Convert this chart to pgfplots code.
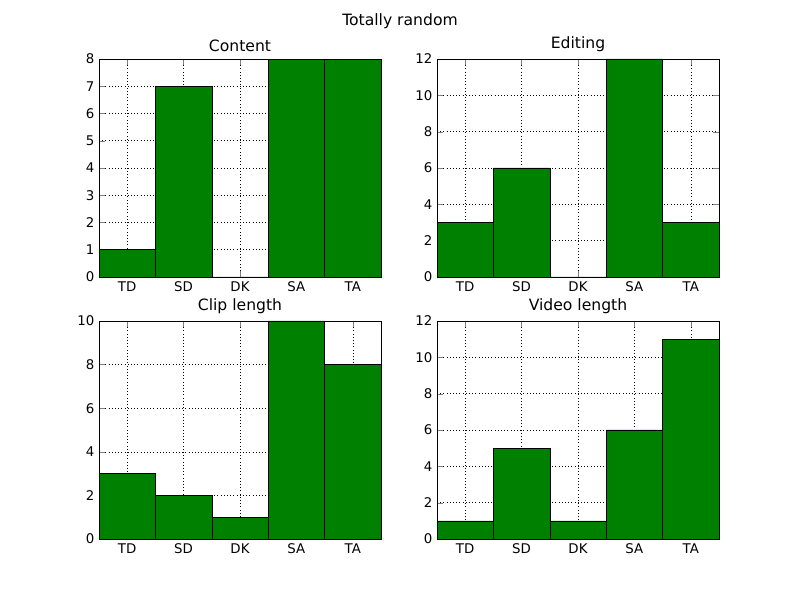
\documentclass[border=0pt]{standalone}
\usepackage{pgfplots}
\pgfplotsset{compat=1.18}
\usepackage{fontspec}
\setmainfont{DejaVu Sans}
\definecolor{mgreen}{RGB}{0,128,0}
\pgfplotsset{
  myax/.style={
    scale only axis, width=211.5pt, height=163.5pt,
    xmin=-0.5, xmax=4.5, ymin=0,
    xtick={0,1,2,3,4}, xticklabels={TD,SD,DK,SA,TA},
    tick align=inside, tick pos=both,
    grid=major, major grid style={black, dotted},
    font=\fontsize{10}{12}\selectfont,
    /pgf/number format/assume math mode=true,
    title style={font=\fontsize{11.7}{13}\selectfont, yshift=-4pt},
    axis line style={black}, anchor=south west,
  },
  mybar/.style={ybar, bar width=1, bar shift=0pt, fill=mgreen, draw=black},
}
\begin{document}
\begin{tikzpicture}
\path[use as bounding box] (0,0) rectangle (600pt,450pt);
\node[font=\fontsize{11.7}{13}\selectfont] at (300pt,434.25pt) {Totally random};
\begin{axis}[myax, at={(74.25pt,242.25pt)}, ymax=8, ytick={0,...,8}, title={Content}]
\addplot[mybar] coordinates {(0,1)(1,7)(2,0)(3,8)(4,8)};
\end{axis}
\begin{axis}[myax, at={(327.75pt,242.25pt)}, ymax=12, ytick={0,2,...,12}, title={Editing}]
\addplot[mybar] coordinates {(0,3)(1,6)(2,0)(3,12)(4,3)};
\end{axis}
\begin{axis}[myax, at={(74.25pt,45.75pt)}, ymax=10, ytick={0,2,...,10}, title={Clip length}]
\addplot[mybar] coordinates {(0,3)(1,2)(2,1)(3,10)(4,8)};
\end{axis}
\begin{axis}[myax, at={(327.75pt,45.75pt)}, ymax=12, ytick={0,2,...,12}, title={Video length}]
\addplot[mybar] coordinates {(0,1)(1,5)(2,1)(3,6)(4,11)};
\end{axis}
\end{tikzpicture}
\end{document}
